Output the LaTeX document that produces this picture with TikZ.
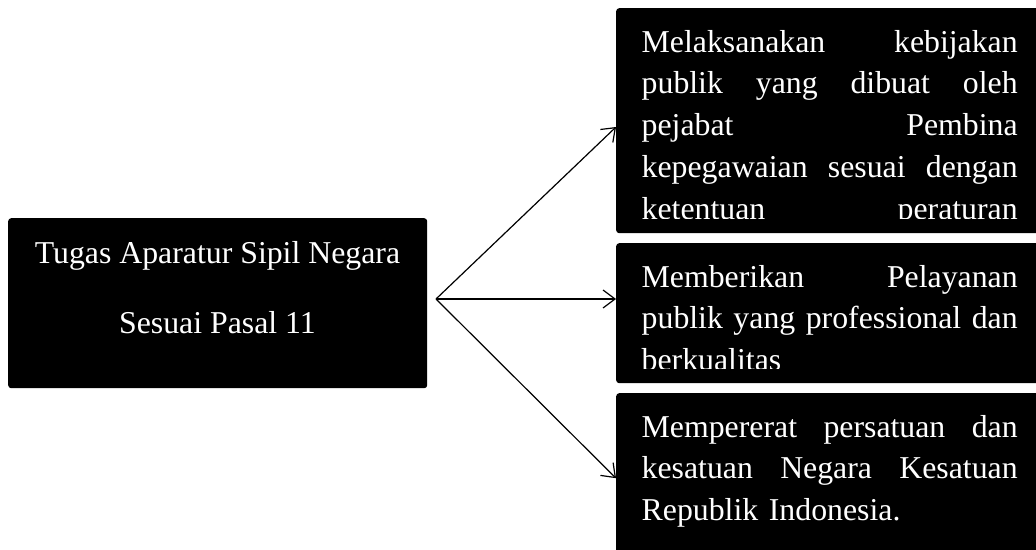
\documentclass[tikz,border=0pt]{standalone}
\usepackage{fontspec}
\setmainfont{Liberation Serif}
\usepackage{xcolor}
\usepackage{tikz}
\usetikzlibrary{calc,arrows.meta}
\definecolor{hitam}{HTML}{000000}
\definecolor{putih}{HTML}{FFFFFF}
\newcommand{\jl}[1]{\makebox[376pt][s]{\spaceskip=\fontdimen2\font plus 1fil\relax #1}}
\tikzset{
  kotak/.style={fill=hitam, rounded corners=3pt, inner sep=0pt, anchor=north west},
  isi/.style={text=putih, inner sep=0pt, font=\fontsize{31.8pt}{41.75pt}\selectfont},
  isikanan/.style={isi, anchor=base west, text width=376pt, align=left},
  panah/.style={draw=hitam, line width=1.2pt, -{Straight Barb[length=12pt,width=18pt]}}
}

\begin{document}
\begin{tikzpicture}[x=1pt,y=-1pt]
  \clip (0,0) rectangle (1036,549);

  % kotak kiri
  \node[kotak, minimum width=419pt, minimum height=170pt] (tugas) at (8,218) {};
  \node[isi, anchor=base] (judulA) at (217.5,263) {Tugas Aparatur Sipil Negara};
  \node[isi, anchor=base] (judulB) at (217.5,333) {Sesuai Pasal 11};

  % kotak kanan
  \node[kotak, minimum width=430pt, minimum height=225pt] (kebijakan) at (616,8) {};
  \node[kotak, minimum width=430pt, minimum height=140pt] (pelayanan) at (616,243) {};
  \node[kotak, minimum width=430pt, minimum height=170pt] (persatuan) at (616,393) {};

  \begin{scope}
    \clip (kebijakan.north west) rectangle ($(kebijakan.south east)+(0,-14.5)$);
    \node[isikanan] (teksA) at ($(kebijakan.north west)+(25.5,44)$) {%
      \jl{Melaksanakan kebijakan}\\
      \jl{publik yang dibuat oleh}\\
      \jl{pejabat Pembina}\\
      \jl{kepegawaian sesuai dengan}\\
      \jl{ketentuan peraturan}};
  \end{scope}
  \begin{scope}
    \clip (pelayanan.north west) rectangle ($(pelayanan.south east)+(0,-14.5)$);
    \node[isikanan] (teksB) at ($(pelayanan.north west)+(25.5,44)$) {%
      \jl{Memberikan Pelayanan}\\
      \jl{publik yang professional dan}\\
      berkualitas};
  \end{scope}
  \node[isikanan] (teksC) at ($(persatuan.north west)+(25.5,44)$) {%
    \jl{Mempererat persatuan dan}\\
    \jl{kesatuan Negara Kesatuan}\\
    Republik Indonesia.};

  % panah
  \coordinate (cabang) at (436,299);
  \draw[panah] (cabang) -- (kebijakan.west |- 0,127);
  \draw[panah] (cabang) -- (pelayanan.west |- cabang);
  \draw[panah] (cabang) -- (persatuan.west);
\end{tikzpicture}
\end{document}
